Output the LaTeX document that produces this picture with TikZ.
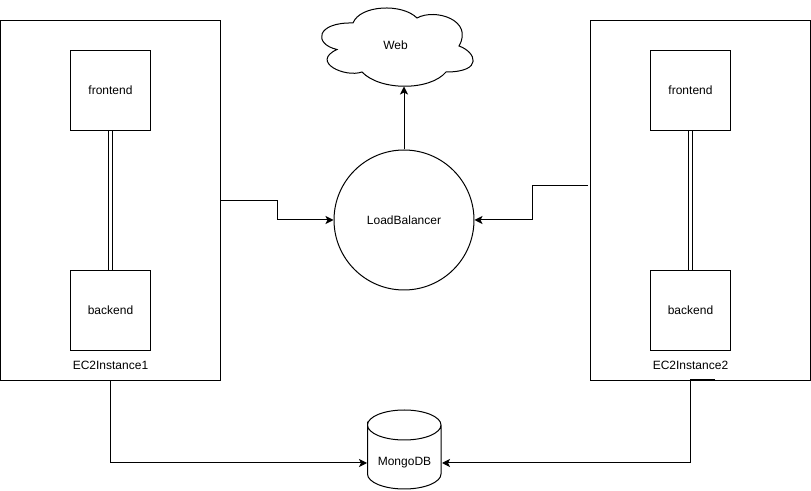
\documentclass[tikz,border=0pt]{standalone}
\usepackage{fontspec}
\setmainfont{Liberation Sans}
\usetikzlibrary{arrows.meta,positioning}
\tikzset{
  ec2box/.style={draw, minimum width=165pt, minimum height=270pt},
  appbox/.style={draw, minimum size=60pt},
  txt/.style={inner sep=0pt},
  link/.style={-{Stealth[length=6pt,width=6pt,inset=1.5pt]}},
  dbllink/.style={double, double distance=2.6pt},
}
\begin{document}
\begin{tikzpicture}[x=0.75pt, y=-0.75pt, line width=0.75pt, font=\fontsize{9}{11}\selectfont]
  \useasboundingbox (0,0) rectangle (811,491);
  \node[ec2box] (ec1) at (110.5,200.5) {};
  \node[ec2box] (ec2) at (700.5,200.5) {};
  \foreach \i/\x in {1/110.5,2/690.5} {
    \node[appbox] (fe\i) at (\x,90.5) {frontend};
    \node[appbox] (be\i) at (\x,310.5) {backend};
    \draw[dbllink] (fe\i) -- (be\i);
    \node[txt, below=7pt of be\i] (ec\i txt) {EC2Instance\i};
  }
  \node[draw, circle, minimum size=105pt, inner sep=0pt] (lb) at (404,220) {LoadBalancer};

  % cloud
  \draw (353,23) .. controls (360,5) and (402,3) .. (417,18)
    .. controls (435,8) and (474,20) .. (459,46)
    .. controls (476,52) and (484,72) .. (446,72)
    .. controls (430,91) and (380,91) .. (362,72)
    .. controls (345,78) and (310,62) .. (337,49.5)
    .. controls (313,44) and (316,22) .. (353,23) -- cycle;
  \node[txt, minimum height=61.5pt] (web) at (395.5,45) {Web};

  % database
  \draw (367.5,425) arc[start angle=180, end angle=-180, x radius=36.75, y radius=-15]
    -- (367.5,474) arc[start angle=180, end angle=360, x radius=36.75, y radius=-15]
    -- (441,425);
  \node[txt, minimum width=55.5pt, minimum height=30pt] (mongo) at (404.5,463) {MongoDB};

  \coordinate (ec2side) at (588,186);
  \coordinate (ec2low) at (715,379.5);

  \draw[link] (lb.north) -- (lb.north |- web.south);
  \draw[link] (ec1.east |- 0,200.5) -- (277.5,200.5) |- (lb.west);
  \draw[link] (ec2side) -- (532.5,186) |- (lb.east);
  \draw[link] (ec1.south) |- (mongo.west);
  \draw[link] (ec2low) -- (690,379.5) |- (mongo.east);
\end{tikzpicture}
\end{document}
